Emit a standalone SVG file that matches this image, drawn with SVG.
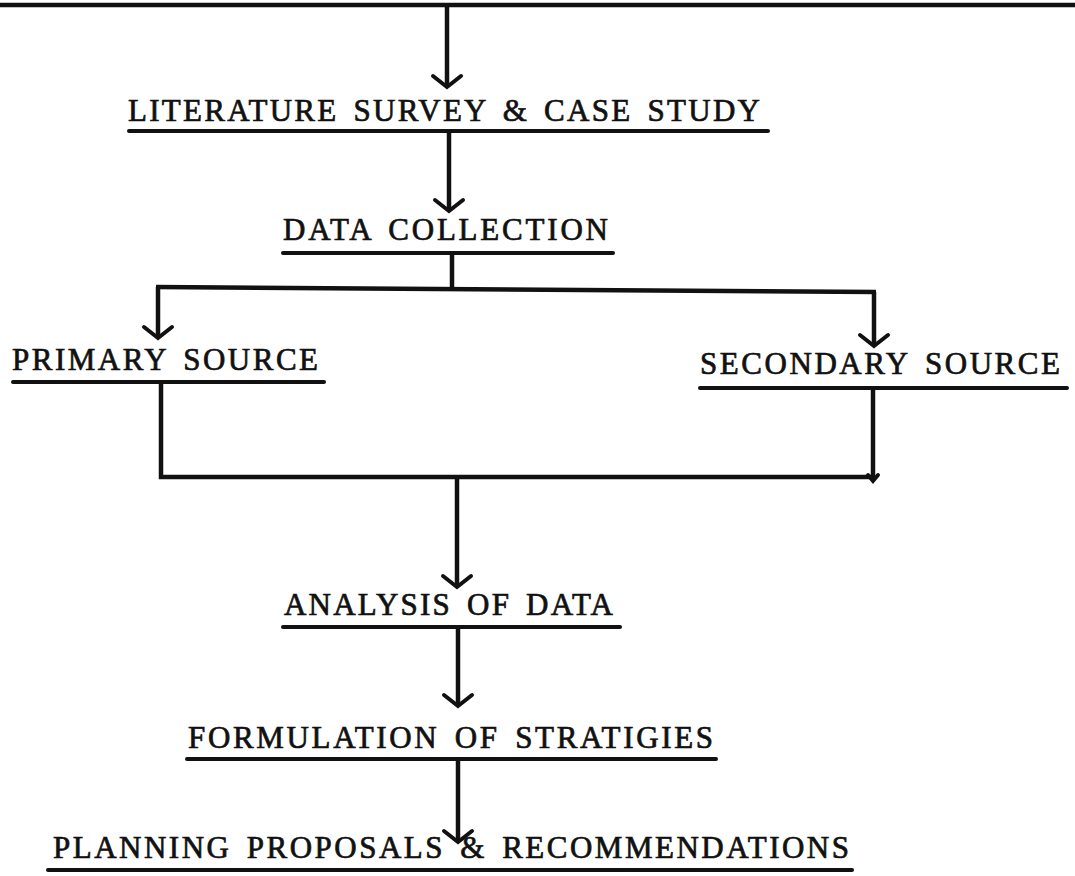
<svg xmlns="http://www.w3.org/2000/svg" width="1075" height="876" viewBox="0 0 1075 876">
  <style>
    .lbl { font-family: "Liberation Serif", "Times New Roman", serif; font-size: 31px; word-spacing: 5px; fill: #111; stroke: #111; stroke-width: 0.7px; }
    .ul { stroke: #111; stroke-width: 4; fill: none; stroke-linecap: round; }
    .wire { stroke: #111; stroke-width: 4.5; fill: none; stroke-linejoin: miter; }
    .arrow { stroke: #111; stroke-width: 4; fill: none; stroke-linejoin: miter; stroke-linecap: round; }
  </style>
  <defs>
    <!-- open V arrowhead, tip at the end of the path -->
    <marker id="vhead" markerUnits="userSpaceOnUse" orient="auto" refX="0" refY="0" markerWidth="40" markerHeight="40" overflow="visible">
      <path class="arrow" d="M-11,-14 L0,0 L-11,14"/>
    </marker>
    <marker id="vsmall" markerUnits="userSpaceOnUse" orient="auto" refX="0" refY="0" markerWidth="20" markerHeight="20" overflow="visible">
      <path class="arrow" d="M-6,-5 L0,0 L-6,5"/>
    </marker>
  </defs>
  <rect width="1075" height="876" fill="#fff"/>

  <!-- connectors -->
  <g id="connectors">
    <path class="wire" d="M0,5 H1075"/>
    <path class="wire" d="M447,5 V87" marker-end="url(#vhead)"/>
    <path class="wire" d="M449,131 V211" marker-end="url(#vhead)"/>
    <path class="wire" d="M452,253 V289"/>
    <path class="wire" d="M156,287 L876,292"/>
    <path class="wire" d="M158,287 V338" marker-end="url(#vhead)"/>
    <path class="wire" d="M874,292 V346" marker-end="url(#vhead)"/>
    <path class="wire" d="M161,382 V477 H873"/>
    <path class="wire" d="M873,388 V481" marker-end="url(#vsmall)"/>
    <path class="wire" d="M457,477 V587" marker-end="url(#vhead)"/>
    <path class="wire" d="M458,627 V706" marker-end="url(#vhead)"/>
    <path class="wire" d="M458,759 V842" marker-end="url(#vhead)"/>
  </g>

  <g id="literature">
    <text class="lbl" x="128" y="121" textLength="632" lengthAdjust="spacing">LITERATURE SURVEY &amp; CASE STUDY</text>
    <path class="ul" d="M129,131 H768"/>
  </g>

  <g id="data-collection">
    <text class="lbl" x="283" y="240" textLength="325" lengthAdjust="spacing">DATA COLLECTION</text>
    <path class="ul" d="M283,253 H613"/>
  </g>

  <g id="primary-source">
    <text class="lbl" x="12" y="370" textLength="306" lengthAdjust="spacing">PRIMARY SOURCE</text>
    <path class="ul" d="M13,382 H324"/>
  </g>

  <g id="secondary-source">
    <text class="lbl" x="700" y="374" textLength="360" lengthAdjust="spacing">SECONDARY SOURCE</text>
    <path class="ul" d="M700,388 H1067"/>
  </g>

  <g id="analysis">
    <text class="lbl" x="284" y="615" textLength="329" lengthAdjust="spacing">ANALYSIS OF DATA</text>
    <path class="ul" d="M283,627 H620"/>
  </g>

  <g id="formulation">
    <text class="lbl" x="188" y="748" textLength="525" lengthAdjust="spacing">FORMULATION OF STRATIGIES</text>
    <path class="ul" d="M187,759 H716"/>
  </g>

  <g id="proposals">
    <text class="lbl" x="53" y="858" textLength="796" lengthAdjust="spacing">PLANNING PROPOSALS &amp; RECOMMENDATIONS</text>
    <path class="ul" d="M48,870 H852"/>
  </g>
</svg>
